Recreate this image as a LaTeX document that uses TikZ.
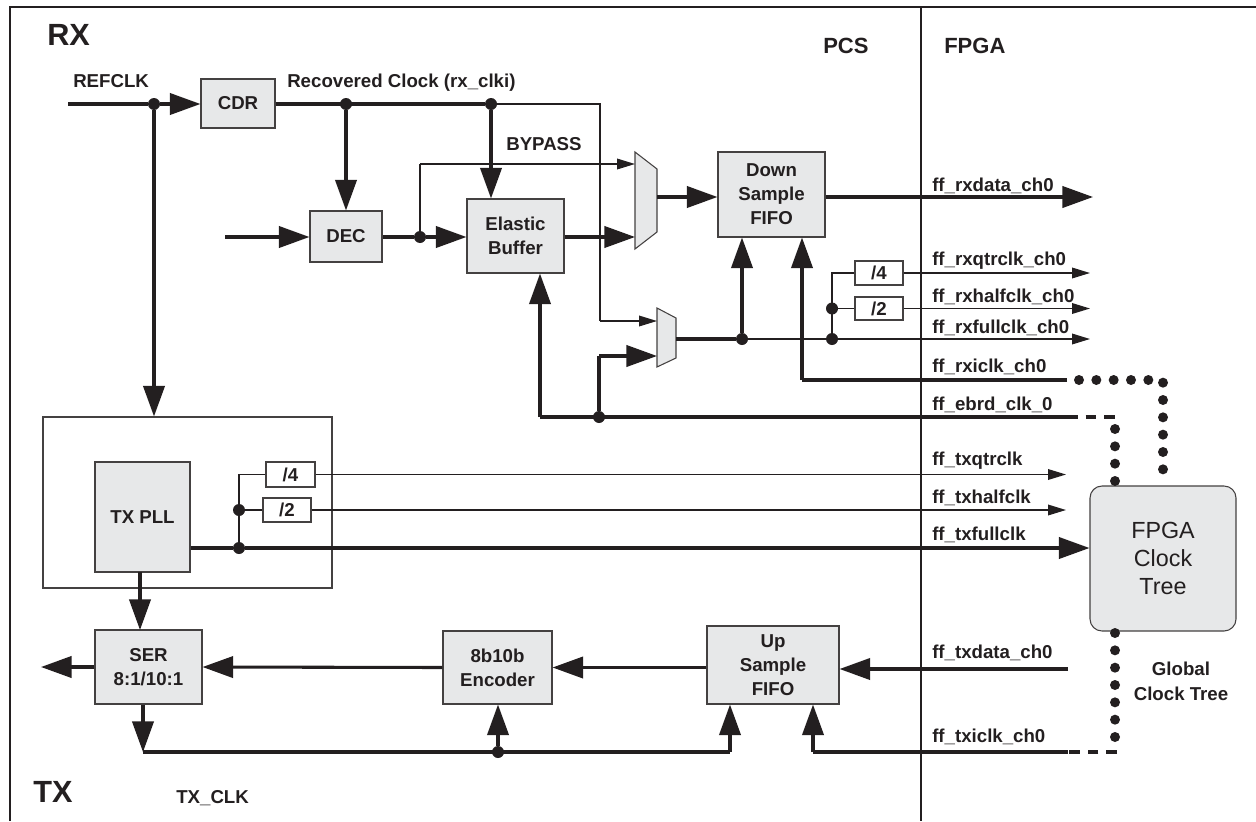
\documentclass[tikz,border=0pt]{standalone}
\usepackage{fontspec}
\setmainfont{Liberation Sans}
\usetikzlibrary{arrows.meta}
\definecolor{boxfill}{HTML}{E7E8E9}
\definecolor{ink}{HTML}{231F20}
\tikzset{
  sz/.style 2 args={minimum width=#1*0.75pt,minimum height=#2*0.75pt},
  blk/.style={draw=ink!85, line width=0.8pt, fill=boxfill, inner sep=0pt, align=center},
  divbox/.style={draw=ink!85, line width=0.8pt, fill=white, inner sep=0pt},
  dotn/.style={circle, fill=ink, inner sep=0pt, minimum size=9pt},
  thk/.style={draw=ink, line width=2.3pt},
  thn/.style={draw=ink, line width=1pt},
  tarr/.style={thk, -{Triangle[length=23pt,width=16pt]}},
  narr/.style={thn, -{Triangle[length=13.5pt,width=8pt]}},
  dotline/.style={draw=ink, line width=7.5pt, line cap=round, dash pattern=on 0pt off 13pt},
  dashline/.style={draw=ink, line width=3.2pt, dash pattern=on 8pt off 6pt},
  lbl/.style={anchor=base west, inner sep=0pt},
  big/.style={font=\bfseries\fontsize{23}{27}\selectfont},
  mid/.style={font=\bfseries\fontsize{16.5}{20}\selectfont}
}
\begin{document}
\begin{tikzpicture}[x=0.75pt,y=-0.75pt,
  every node/.style={font=\bfseries\fontsize{14}{18}\selectfont, text=ink}]
\useasboundingbox (0,0) rectangle (1256,821);
% frame
\draw[ink, line width=2.2pt] (10,821) -- (10,7) -- (1256,7);
\draw[ink, line width=2.2pt] (921,7) -- (921,821);

% region labels
\node[lbl, big] (rx) at (47,45) {RX};
\node[lbl, big] (tx) at (33,802) {TX};
\node[lbl, mid] (pcs) at (823,53) {PCS};
\node[lbl, mid] (fpga) at (944,53) {FPGA};
\node[lbl] (aux) at (60,446) {AUX};
\node[lbl] (txclk) at (176,803) {TX\_CLK};
\node[lbl] (refclk) at (73,87) {REFCLK};
\node[lbl] (recclk) at (287,87) {Recovered Clock (rx\_clki)};
\node[lbl] (bypass) at (506,150) {BYPASS};

% blocks
\node[divbox, sz={289}{171}] (auxbox) at (187.5,502.5) {};
\node[blk, sz={74}{49}] (cdr) at (238,103.5) {CDR};
\node[blk, sz={72}{51}] (dec) at (346,236.5) {DEC};
\node[blk, sz={97}{74}] (eb) at (515.5,236) {Elastic\\Buffer};
\node[blk, sz={107}{85}] (dsf) at (771.5,194.5) {Down\\Sample\\FIFO};
\node[divbox, sz={48}{24}] (d4r) at (879,273) {/4};
\node[divbox, sz={48}{23}] (d2r) at (879,308.5) {/2};
\node[blk, sz={95}{110}] (pll) at (142.5,517) {TX PLL};
\node[divbox, sz={49}{25}] (d4t) at (290.5,474.5) {/4};
\node[divbox, sz={48}{24}] (d2t) at (287,510) {/2};
\node[blk, sz={107}{74}] (ser) at (148.5,667) {SER\\8:1/10:1};
\node[blk, sz={109}{73}] (enc) at (497.5,667.5) {8b10b\\Encoder};
\node[blk, sz={132}{78}] (usf) at (773,665) {Up\\Sample\\FIFO};
\node[blk, sz={146}{145}, rounded corners=9pt,
      font=\mdseries\fontsize{17.5}{21}\selectfont] (fct) at (1163,558.5) {FPGA\\Clock\\Tree};
\node[align=center, inner sep=0pt, font=\bfseries\fontsize{14}{19}\selectfont] (gct) at (1181,681) {Global\\Clock Tree};

% muxes
\draw[blk] (635,152) coordinate (m1a) -- (657,169) -- (657,232) -- (635,249) -- cycle;
\draw[blk] (657,308) coordinate (m2a) -- (676,318) -- (676,358) -- (657,367) -- cycle;
\coordinate (m1in1) at (635,164);
\coordinate (m1in2) at (635,237);
\coordinate (m1out) at (657,197);
\coordinate (m2in1) at (657,321);
\coordinate (m2in2) at (657,356);
\coordinate (m2out) at (676,339);

% dots
\node[dotn] (j1) at (154,104) {};
\node[dotn] (j2) at (346,104) {};
\node[dotn] (j3) at (491,104) {};
\node[dotn] (j4) at (420,237) {};
\node[dotn] (j5) at (742,339) {};
\node[dotn] (j6) at (832,339) {};
\node[dotn] (j7) at (832,308.5) {};
\node[dotn] (j8) at (599,417) {};
\node[dotn] (j9) at (239,548) {};
\node[dotn] (j10) at (239,510) {};
\node[dotn] (j11) at (498,752) {};

% free ends
\coordinate (refin) at (68,104);
\coordinate (decin) at (225,237);
\coordinate (bypc) at (600,104);
\coordinate (rxdata) at (1093,197);
\coordinate (rxq) at (1090,273);
\coordinate (rxh) at (1090,308.5);
\coordinate (rxf) at (1090,339);
\coordinate (rxi) at (1067,380);
\coordinate (ebrd) at (1067,417);
\coordinate (txq) at (1066,474.5);
\coordinate (txh) at (1066,510);
\coordinate (txd) at (1068,669);
\coordinate (txi) at (1068,752);
\coordinate (serout) at (41,667);
\coordinate (txc) at (143,752);

% RX connections
\draw[thk] (refin) -- (j1);
\draw[tarr] (j1) -- (cdr.west |- j1);
\draw[tarr] (j1) -- (j1 |- auxbox.north);
\draw[thk] (cdr.east |- j1) -- (j3);
\draw[thn] (j3) -- (bypc) -- (bypc |- m2in1);
\draw[narr] (bypc |- m2in1) -- (m2in1);
\draw[tarr] (j2) -- (j2 |- dec.north);
\draw[tarr] (decin) -- (dec.west |- decin);
\draw[thk] (dec.east |- j4) -- (j4);
\draw[tarr] (j4) -- (eb.west |- j4);
\draw[thn] (j4) -- (j4 |- m1in1);
\draw[narr] (j4 |- m1in1) -- (m1in1);
\draw[tarr] (j3) -- (j3 |- eb.north);
\draw[tarr] (eb.east |- m1in2) -- (m1in2);
\draw[tarr] (m1out) -- (dsf.west |- m1out);
\draw[tarr] (dsf.east |- rxdata) -- (rxdata);
\draw[thk] (m2out) -- (j5);
\draw[tarr] (j5) -- (j5 |- dsf.south);
\draw[thn] (j5) -- (j6);
\draw[narr] (j6) -- (rxf);
\draw[thn] (j6) -- (j6 |- d4r) -- (d4r.west);
\draw[thn] (j7) -- (d2r.west);
\draw[narr] (d4r.east) -- (rxq);
\draw[narr] (d2r.east) -- (rxh);
\draw[thk] (rxi) -- (802,380) coordinate (rxic);
\draw[tarr] (rxic) -- (rxic |- dsf.south);
\draw[thk] (ebrd) -- (540,417) coordinate (ebc);
\draw[tarr] (ebc) -- (ebc |- eb.south);
\draw[thk] (j8) -- (j8 |- m2in2);
\draw[tarr] (j8 |- m2in2) -- (m2in2);

% global clock tree
\draw[dotline] (1079,380) -- (1163,380) -- (1163,486);
\draw[dashline] (ebrd) -- (1115,417);
\draw[dotline] (1115,429) -- (1115,486);
\draw[dotline] (1115,633) -- (1115,746);
\draw[dashline] (1117,752) -- (txi);

% TX connections
\draw[thk] (pll.east |- j9) -- (j9);
\draw[tarr] (j9) -- (fct.west |- j9);
\draw[thn] (j9) -- (j9 |- d4t) -- (d4t.west);
\draw[thn] (j10) -- (d2t.west);
\draw[narr] (d4t.east) -- (txq);
\draw[narr] (d2t.east) -- (txh);
\draw[tarr] (140,572) -- (140,630);
\draw[tarr] (ser.west) -- (serout);
\draw[tarr] (enc.west) -- (ser.east);
\draw[tarr] (usf.west |- enc) -- (enc.east);
\draw[tarr] (txd) -- (usf.east |- txd);
\draw[tarr] (txc |- ser.south) -- (txc);
\draw[thk] (txc) -- (730,752) coordinate (usfc);
\draw[tarr] (usfc) -- (usfc |- usf.south);
\draw[tarr] (j11) -- (j11 |- enc.south);
\draw[thk] (txi) -- (813,752) coordinate (txic);
\draw[tarr] (txic) -- (txic |- usf.south);

% signal labels
\node[lbl] (l1) at (932,191) {ff\_rxdata\_ch0};
\node[lbl] (l2) at (932,265) {ff\_rxqtrclk\_ch0};
\node[lbl] (l3) at (932,302) {ff\_rxhalfclk\_ch0};
\node[lbl] (l4) at (932,333) {ff\_rxfullclk\_ch0};
\node[lbl] (l5) at (932,372) {ff\_rxiclk\_ch0};
\node[lbl] (l6) at (932,410) {ff\_ebrd\_clk\_0};
\node[lbl] (l7) at (932,465) {ff\_txqtrclk};
\node[lbl] (l8) at (932,503) {ff\_txhalfclk};
\node[lbl] (l9) at (932,540) {ff\_txfullclk};
\node[lbl] (l10) at (932,658) {ff\_txdata\_ch0};
\node[lbl] (l11) at (932,742) {ff\_txiclk\_ch0};
\end{tikzpicture}
\end{document}
